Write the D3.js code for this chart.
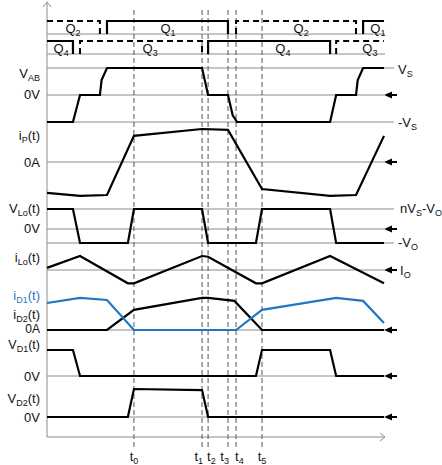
<!DOCTYPE html>
<html>
<head>
<meta charset="utf-8">
<script src="https://cdn.jsdelivr.net/npm/d3@7"></script>
<style>
  html, body { margin: 0; padding: 0; background: #fff; }
  svg { display: block; font-family: "Liberation Sans", Arial, sans-serif; }
</style>
</head>
<body>
<div id="chart"></div>
<script>
// time in arbitrary units, 0..100 over the shown window
const markTimes = [25.8, 46.0, 47.8, 53.7, 56.1, 63.8]
const markNames = ["0", "1", "2", "3", "4", "5"]
const markAnchors = ["middle", "end", "start", "end", "start", "middle"]

// gate signals, [t, on/off]
const q2 = [[0, 1], [15.7, 1], [15.7, 0]]
const q1a = [[17.8, 0], [17.8, 1], [53.7, 1], [53.7, 0]]
const q2b = [[56.1, 0], [56.1, 1], [91.7, 1], [91.7, 0]]
const q1b = [[93.8, 0], [93.8, 1], [100, 1]]
const q4 = [[0, 1], [7.7, 1], [7.7, 0]]
const q3a = [[9.8, 0], [9.8, 1], [46.0, 1], [46.0, 0]]
const q4b = [[47.8, 0], [47.8, 1], [84.0, 1], [84.0, 0]]
const q3b = [[85.8, 0], [85.8, 1], [100, 1]]
const qLabelsTop = [[7.7, "Q_{2}"], [35.9, "Q_{1}"], [75.4, "Q_{2}"], [98.2, "Q_{1}"]]
const qLabelsBottom = [[4.2, "Q_{4}"], [30.6, "Q_{3}"], [70.0, "Q_{4}"], [95.8, "Q_{3}"]]

// waveforms, [t, value]
const vAB = [[0, -1], [7.7, -1], [9.8, 0], [15.7, 0], [16.2, 0.55], [17.8, 1], [46.0, 1], [47.8, 0], [53.7, 0],
    [55.1, -0.75], [56.4, -1], [84.0, -1], [85.8, 0], [91.7, 0], [92.2, 0.55], [93.8, 1], [100, 1]]
const iP = [[0, -1.03], [9.8, -1.13], [17.8, -1.1], [25.8, 0.87], [46.0, 1.1], [53.7, 1.07], [63.8, -0.9],
    [84.0, -1.13], [91.7, -1.1], [100, 0.87]]
const vLo = [[0, 1], [7.7, 1], [9.8, -0.7], [24.0, -0.7], [25.8, 1], [46.0, 1], [47.8, -0.7], [62.0, -0.7],
    [63.8, 1], [84.0, 1], [85.8, -0.7], [100, -0.7]]
const iLo = [[0, 1.03], [9.8, 1.2], [24.0, 0.81], [25.8, 0.81], [46.0, 1.2], [47.8, 1.19], [62.0, 0.81],
    [63.8, 0.81], [84.0, 1.2], [100, 0.81]]
const iD1 = [[0, 0.9], [9.8, 1.07], [17.8, 1.0], [25.8, 0], [56.1, 0], [63.8, 0.67], [85.8, 1.07], [93.8, 0.97], [100, 0.23]]
const iD2 = [[0, 0], [17.8, 0], [25.8, 0.67], [46.0, 1.07], [47.8, 1.07], [55.6, 0.97], [63.8, 0], [100, 0]]
const vD1 = [[0, 1], [7.7, 1], [9.8, 0], [62.0, 0], [63.8, 1], [84.0, 1], [85.8, 0], [100, 0]]
const vD2 = [[0, 0], [24.0, 0], [25.8, 1], [46.0, 0.96], [47.8, 0], [100, 0]]

const width = 442, height = 465
const svg = d3.select("#chart").append("svg").attr("width", width).attr("height", height)

const x = d3.scaleLinear().domain([0, 100]).range([47, 384])
const yQtop = d3.scaleLinear().domain([0, 1]).range([34, 21])
const yQbot = d3.scaleLinear().domain([0, 1]).range([54, 41])
const yAB = d3.scaleLinear().domain([-1, 1]).range([122, 68])
const yP = d3.scaleLinear().domain([-1, 1]).range([192, 132])
const yLo = d3.scaleLinear().domain([0, 1]).range([229, 209])
const yILo = d3.scaleLinear().domain([0, 1]).range([340, 270])
const yD = d3.scaleLinear().domain([0, 1]).range([330, 300])
const yD1 = d3.scaleLinear().domain([0, 1]).range([376, 350])
const yD2 = d3.scaleLinear().domain([0, 1]).range([417, 389])

const grey = "#8c8c8c"
const blue = "#1f78c1"

function addText(g, px, py, anchor, str, color, size) {
    var t = g.append("text").attr("x", px).attr("y", py).attr("text-anchor", anchor)
        .attr("font-size", size || 13).attr("fill", color || "#111")
    var parts = str.split(/(_\{[^}]*\})/)
    var shifted = false
    parts.forEach(p => {
        if (!p) return
        if (p.startsWith("_{")) {
            t.append("tspan").text(p.slice(2, -1)).attr("font-size", 9).attr("dy", 3)
            shifted = true
        } else {
            var s = t.append("tspan").text(p)
            if (shifted) { s.attr("dy", -3); shifted = false }
        }
    })
    return t
}

// reference lines: [scale, value, right end]
const refLines = [
    [yQtop, 0, 385], [yQbot, 0, 385],
    [yAB, 1, 394], [yAB, 0, 384], [yAB, -1, 394],
    [yP, 0, 384],
    [yLo, 1, 394], [yLo, 0, 384], [yLo, -0.7, 394],
    [yILo, 1, 384], [yD, 0, 384], [yD1, 0, 384], [yD2, 0, 384]
]
refLines.forEach(r => {
    svg.append("line").attr("x1", x(0)).attr("x2", r[2])
        .attr("y1", r[0](r[1])).attr("y2", r[0](r[1]))
        .attr("stroke", grey).attr("stroke-width", 1)
})

// axes
svg.append("line").attr("x1", 47).attr("x2", 47).attr("y1", 437).attr("y2", 3)
    .attr("stroke", grey).attr("stroke-width", 1)
svg.append("path").attr("d", "M43,7 L47,2 L51,7").attr("fill", "none").attr("stroke", grey)
svg.append("line").attr("x1", 47).attr("x2", 384).attr("y1", 437).attr("y2", 437)
    .attr("stroke", grey).attr("stroke-width", 1)
svg.append("path").attr("d", "M380,433 L385,437 L380,441").attr("fill", "none").attr("stroke", grey)

// time markers
markTimes.forEach((t, i) => {
    svg.append("line").attr("x1", x(t)).attr("x2", x(t)).attr("y1", 10).attr("y2", 450)
        .attr("stroke", "#555").attr("stroke-width", 1).attr("stroke-dasharray", "5,3")
    var a = markAnchors[i]
    var lx = a === "end" ? x(t) + 1 : a === "start" ? x(t) - 1 : x(t)
    addText(svg, lx, 461, a, "t_{" + markNames[i] + "}")
})

function trace(data, y, color, dashed) {
    var line = d3.line().x(d => x(d[0])).y(d => y(d[1]))
    var p = svg.append("path").datum(data).attr("d", line)
        .attr("fill", "none").attr("stroke", color || "#000").attr("stroke-width", 2.2)
        .attr("stroke-linejoin", "miter")
    if (dashed) p.attr("stroke-dasharray", "6,4").attr("stroke-width", 2)
    return p
}

trace(q2, yQtop, "#000", true)
trace(q1a, yQtop)
trace(q2b, yQtop, "#000", true)
trace(q1b, yQtop)
trace(q4, yQbot)
trace(q3a, yQbot, "#000", true)
trace(q4b, yQbot)
trace(q3b, yQbot, "#000", true)

trace(vAB, yAB)
trace(iP, yP)
trace(vLo, yLo)
trace(iLo, yILo)
trace(iD2, yD)
trace(iD1, yD, blue)
trace(vD1, yD1)
trace(vD2, yD2)

qLabelsTop.forEach(q => addText(svg, x(q[0]), 33, "middle", q[1]))
qLabelsBottom.forEach(q => addText(svg, x(q[0]), 53, "middle", q[1]))

// arrows pointing at the zero / reference levels
const arrowLevels = [yAB(0), yP(0), yLo(0), yILo(1), yD(0), yD1(0), yD2(0)]
arrowLevels.forEach(ay => {
    svg.append("line").attr("x1", 390).attr("x2", 397).attr("y1", ay).attr("y2", ay)
        .attr("stroke", "#000").attr("stroke-width", 2)
    svg.append("path").attr("d", `M384,${ay} L392,${ay - 3.5} L392,${ay + 3.5} Z`).attr("fill", "#000")
})

// left labels
const leftLabels = [
    [78, "V_{AB}"], [99, "0V"], [140, "i_{P}(t)"], [167, "0A"], [213, "V_{Lo}(t)"], [233, "0V"],
    [262, "i_{Lo}(t)"], [319, "i_{D2}(t)"], [381, "0V"],
    [403, "V_{D2}(t)"], [422, "0V"]
]
leftLabels.forEach(l => addText(svg, 40, l[0], "end", l[1]))
addText(svg, 40, 333, "end", "0A", "#111", 12)
addText(svg, 40, 349, "end", "V_{D1}(t)", "#111", 12.5)
addText(svg, 40, 300, "end", "i_{D1}(t)", blue)

// right labels
addText(svg, 398, 74, "start", "V_{S}")
addText(svg, 398, 127, "start", "-V_{S}")
addText(svg, 400, 213, "start", "nV_{S}-V_{O}")
addText(svg, 398, 247, "start", "-V_{O}")
addText(svg, 400, 275, "start", "I_{O}")
</script>
</body>
</html>
